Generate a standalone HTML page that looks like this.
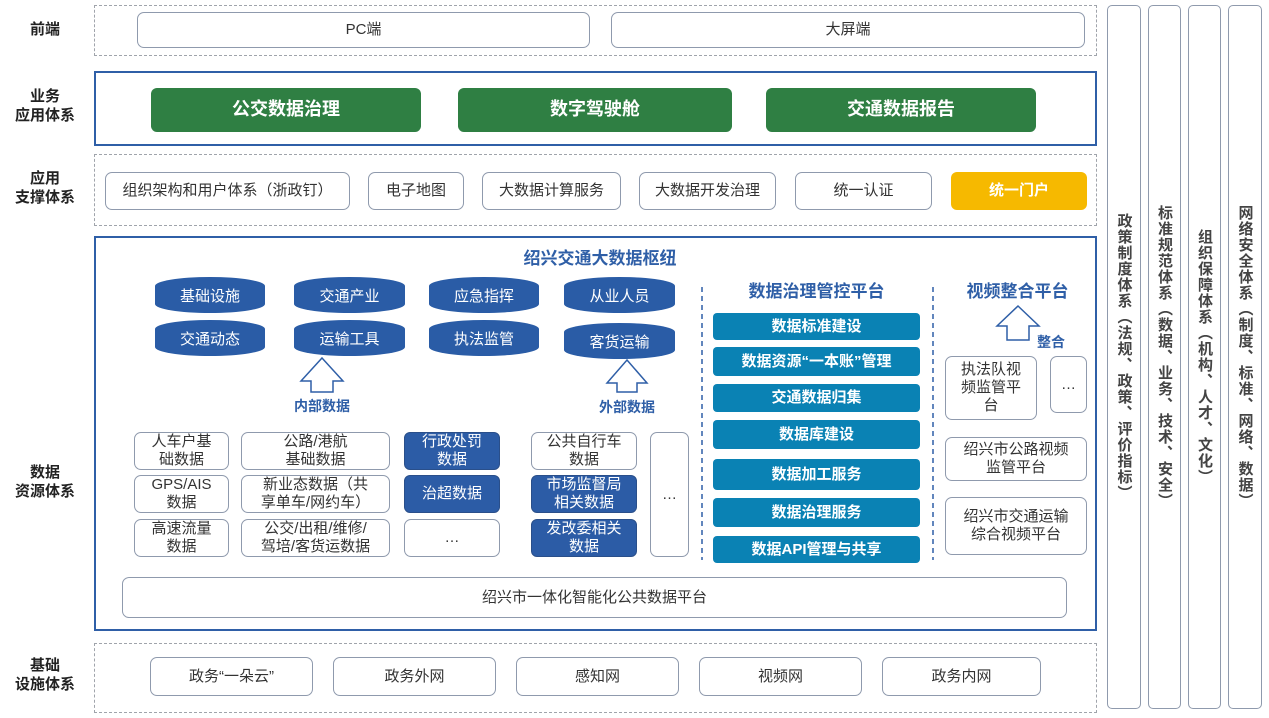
<!DOCTYPE html>
<html><head><meta charset="utf-8"><style>
*{margin:0;padding:0;box-sizing:border-box}
body{width:1269px;height:718px;background:#fff;position:relative;overflow:hidden;font-family:"Liberation Sans","Noto Sans CJK SC",sans-serif;color:#333}
.a{position:absolute}
.c{position:absolute;display:flex;align-items:center;justify-content:center;text-align:center;line-height:1.2}
.dash{border:1.5px dashed #a0a4ab}
.solid{border:2.5px solid #2f5fa7}
.w{border:1.5px solid #8f9aad;border-radius:7px;background:#fff;font-size:15px;color:#333}
.g{background:#2f7f43;color:#fff;border-radius:6px;font-size:18px;font-weight:bold}
.lab{position:absolute;font-weight:bold;font-size:15px;color:#222;text-align:center;width:90px;line-height:1.25}
.cyl{position:absolute;background:#2a5ca6;color:#fff;font-size:15px;display:flex;align-items:center;justify-content:center;border-radius:50%/9px}
.bl{border:1.5px solid #2a4f8a;border-radius:6px;background:#2c5ca6;color:#fff;font-size:15px}
.t{background:#0a82b4;color:#fff;border-radius:4px;font-size:15px;font-weight:bold}
.v{position:absolute;border:1.5px solid #8f9aad;border-radius:5px;display:flex;justify-content:center;align-items:center}
.v span{writing-mode:vertical-rl;font-weight:bold;font-size:15px;color:#444;letter-spacing:1px}
.bt{font-weight:bold;color:#2f5fa7;font-size:17px}
</style></head><body>
<div class="lab" style="left:0;top:21px">前端</div>
<div class="lab" style="left:0;top:88px">业务<br>应用体系</div>
<div class="lab" style="left:0;top:170px">应用<br>支撑体系</div>
<div class="lab" style="left:0;top:464px">数据<br>资源体系</div>
<div class="lab" style="left:0;top:657px">基础<br>设施体系</div>

<div class="a dash" style="left:94px;top:5px;width:1003px;height:51px"></div>
<div class="c w" style="left:137px;top:12px;width:453px;height:36px">PC端</div>
<div class="c w" style="left:611px;top:12px;width:474px;height:36px">大屏端</div>

<div class="a solid" style="left:94px;top:71px;width:1003px;height:75px"></div>
<div class="c g" style="left:151px;top:88px;width:270px;height:44px">公交数据治理</div>
<div class="c g" style="left:458px;top:88px;width:274px;height:44px">数字驾驶舱</div>
<div class="c g" style="left:766px;top:88px;width:270px;height:44px">交通数据报告</div>

<div class="a dash" style="left:94px;top:154px;width:1003px;height:72px"></div>
<div class="c w" style="left:105px;top:172px;width:245px;height:38px">组织架构和用户体系（浙政钉）</div>
<div class="c w" style="left:368px;top:172px;width:96px;height:38px">电子地图</div>
<div class="c w" style="left:482px;top:172px;width:139px;height:38px">大数据计算服务</div>
<div class="c w" style="left:639px;top:172px;width:137px;height:38px">大数据开发治理</div>
<div class="c w" style="left:795px;top:172px;width:137px;height:38px">统一认证</div>
<div class="c" style="left:951px;top:172px;width:136px;height:38px;background:#f6b900;color:#fff;border-radius:6px;font-weight:bold;font-size:15px">统一门户</div>

<div class="a solid" style="left:94px;top:236px;width:1003px;height:395px"></div>
<div class="c bt" style="left:450px;top:247px;width:300px;height:24px">绍兴交通大数据枢纽</div>
<div class="cyl" style="left:155px;top:277px;width:110px;height:36px">基础设施</div>
<div class="cyl" style="left:294px;top:277px;width:111px;height:36px">交通产业</div>
<div class="cyl" style="left:429px;top:277px;width:110px;height:36px">应急指挥</div>
<div class="cyl" style="left:564px;top:277px;width:111px;height:36px">从业人员</div>
<div class="cyl" style="left:155px;top:320px;width:110px;height:36px">交通动态</div>
<div class="cyl" style="left:294px;top:320px;width:111px;height:36px">运输工具</div>
<div class="cyl" style="left:429px;top:320px;width:110px;height:36px">执法监管</div>
<div class="cyl" style="left:564px;top:323px;width:111px;height:36px">客货运输</div>
<svg class="a" style="left:0;top:0" width="1269" height="718">
<g fill="#fff" stroke="#2f5fa7" stroke-width="1.5">
<polygon points="322,358 343,381 333,381 333,392 311,392 311,381 301,381"/>
<polygon points="627,360 647,383 637,383 637,392 617,392 617,383 607,383"/>
<polygon points="1018,306 1039,326 1029,326 1029,340 1007,340 1007,326 997,326"/>
</g>
<g stroke="#2f5fa7" stroke-width="1.5" stroke-dasharray="5,4">
<line x1="702" y1="287" x2="702" y2="560"/><line x1="933" y1="287" x2="933" y2="560"/>
</g></svg>
<div class="c" style="left:272px;top:396px;width:100px;height:20px;font-weight:bold;color:#2f5fa7;font-size:14px">内部数据</div>
<div class="c" style="left:577px;top:397px;width:100px;height:20px;font-weight:bold;color:#2f5fa7;font-size:14px">外部数据</div>

<div class="c w" style="left:134px;top:432px;width:95px;height:38px">人车户基<br>础数据</div>
<div class="c w" style="left:134px;top:475px;width:95px;height:38px">GPS/AIS<br>数据</div>
<div class="c w" style="left:134px;top:519px;width:95px;height:38px">高速流量<br>数据</div>
<div class="c w" style="left:241px;top:432px;width:149px;height:38px">公路/港航<br>基础数据</div>
<div class="c w" style="left:241px;top:475px;width:149px;height:38px">新业态数据（共<br>享单车/网约车）</div>
<div class="c w" style="left:241px;top:519px;width:149px;height:38px">公交/出租/维修/<br>驾培/客货运数据</div>
<div class="c bl" style="left:404px;top:432px;width:96px;height:38px">行政处罚<br>数据</div>
<div class="c bl" style="left:404px;top:475px;width:96px;height:38px">治超数据</div>
<div class="c w" style="left:404px;top:519px;width:96px;height:38px">…</div>
<div class="c w" style="left:531px;top:432px;width:106px;height:38px">公共自行车<br>数据</div>
<div class="c bl" style="left:531px;top:475px;width:106px;height:38px">市场监督局<br>相关数据</div>
<div class="c bl" style="left:531px;top:519px;width:106px;height:38px">发改委相关<br>数据</div>
<div class="c w" style="left:650px;top:432px;width:39px;height:125px">…</div>

<div class="c bt" style="left:713px;top:280px;width:207px;height:24px">数据治理管控平台</div>
<div class="c t" style="left:713px;top:313px;width:207px;height:27px">数据标准建设</div>
<div class="c t" style="left:713px;top:347px;width:207px;height:29px">数据资源“一本账”管理</div>
<div class="c t" style="left:713px;top:384px;width:207px;height:28px">交通数据归集</div>
<div class="c t" style="left:713px;top:420px;width:207px;height:29px">数据库建设</div>
<div class="c t" style="left:713px;top:459px;width:207px;height:31px">数据加工服务</div>
<div class="c t" style="left:713px;top:498px;width:207px;height:29px">数据治理服务</div>
<div class="c t" style="left:713px;top:536px;width:207px;height:27px">数据API管理与共享</div>

<div class="c bt" style="left:945px;top:280px;width:145px;height:24px">视频整合平台</div>
<div class="c" style="left:1033px;top:332px;width:36px;height:20px;font-weight:bold;color:#2f5fa7;font-size:14px">整合</div>
<div class="c w" style="left:945px;top:356px;width:92px;height:64px">执法队视<br>频监管平<br>台</div>
<div class="c w" style="left:1050px;top:356px;width:37px;height:57px">…</div>
<div class="c w" style="left:945px;top:437px;width:142px;height:44px">绍兴市公路视频<br>监管平台</div>
<div class="c w" style="left:945px;top:497px;width:142px;height:58px">绍兴市交通运输<br>综合视频平台</div>

<div class="c w" style="left:122px;top:577px;width:945px;height:41px">绍兴市一体化智能化公共数据平台</div>

<div class="a dash" style="left:94px;top:643px;width:1003px;height:70px"></div>
<div class="c w" style="left:150px;top:657px;width:163px;height:39px">政务“一朵云”</div>
<div class="c w" style="left:333px;top:657px;width:163px;height:39px">政务外网</div>
<div class="c w" style="left:516px;top:657px;width:163px;height:39px">感知网</div>
<div class="c w" style="left:699px;top:657px;width:163px;height:39px">视频网</div>
<div class="c w" style="left:882px;top:657px;width:159px;height:39px">政务内网</div>

<div class="v" style="left:1107px;top:5px;width:34px;height:704px"><span>政策制度体系（法规、政策、评价指标）</span></div>
<div class="v" style="left:1148px;top:5px;width:33px;height:704px"><span>标准规范体系（数据、业务、技术、安全）</span></div>
<div class="v" style="left:1188px;top:5px;width:33px;height:704px"><span>组织保障体系（机构、人才、文化）</span></div>
<div class="v" style="left:1228px;top:5px;width:34px;height:704px"><span>网络安全体系（制度、标准、网络、数据）</span></div>
</body></html>
